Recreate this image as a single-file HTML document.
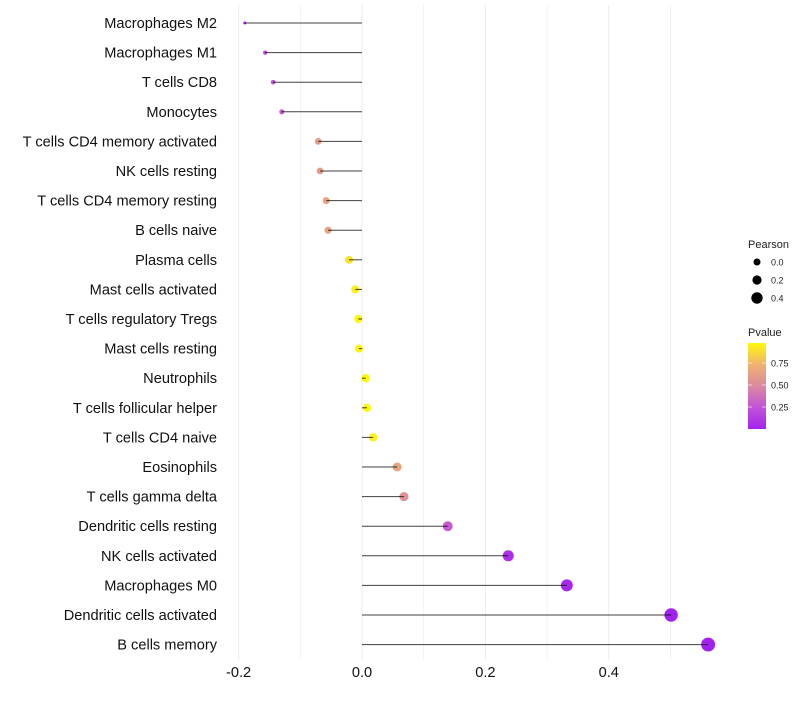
<!DOCTYPE html>
<html><head><meta charset="utf-8"><style>
body{margin:0;background:#fff;font-family:"Liberation Sans",sans-serif}
</style></head><body>
<svg id="c" width="800" height="700" xmlns="http://www.w3.org/2000/svg"></svg>
<script>
const categories=["Macrophages M2","Macrophages M1","T cells CD8","Monocytes","T cells CD4 memory activated","NK cells resting","T cells CD4 memory resting","B cells naive","Plasma cells","Mast cells activated","T cells regulatory  Tregs ","Mast cells resting","Neutrophils","T cells follicular helper","T cells CD4 naive","Eosinophils","T cells gamma delta","Dendritic cells resting","NK cells activated","Macrophages M0","Dendritic cells activated","B cells memory"];
const pearson=[-0.19,-0.157,-0.144,-0.13,-0.071,-0.068,-0.058,-0.055,-0.021,-0.011,-0.006,-0.005,0.006,0.008,0.018,0.057,0.068,0.139,0.237,0.332,0.501,0.561];
const pvalue=[0.01,0.2,0.25,0.3,0.6,0.6,0.65,0.65,0.9,0.95,0.97,0.97,0.98,0.98,0.95,0.65,0.55,0.3,0.08,0.04,0.01,0.005];
const xTicks=[-0.2,0,0.2,0.4];
const xTickLabels=["-0.2","0.0","0.2","0.4"];
const svg=document.getElementById('c');
const NS="http://www.w3.org/2000/svg";
function X(v){return 362+v*617;}
function Y(i){return 23+i*29.6;}
function R(v){return Math.sqrt(Math.max(2.2,17+(v<0?80:56)*v));}
function col(p){
 const stops=[[0,[160,32,240]],[0.3,[200,90,210]],[0.5,[218,138,160]],[0.75,[240,180,110]],[1,[255,255,0]]];
 for(let k=1;k<stops.length;k++){if(p<=stops[k][0]){const a=stops[k-1],b=stops[k],t=(p-a[0])/(b[0]-a[0]);return 'rgb('+a[1].map((c,j)=>Math.round(c+(b[1][j]-c)*t)).join(',')+')';}}
 return 'rgb(255,255,0)';}
function el(t,a,p){const e=document.createElementNS(NS,t);for(const k in a)e.setAttribute(k,a[k]);(p||svg).appendChild(e);return e;}
[-0.2,-0.1,0,0.1,0.2,0.3,0.4,0.5].forEach(v=>{
 const g=el('line',{x1:X(v),x2:X(v),y1:5,y2:660,stroke:'#ebebeb','stroke-width':Math.abs(v*10)%2<0.01?1:0.6});
 
 
});
xTicks.forEach((v,i)=>{
 const t=el('text',{x:X(v),y:677,'text-anchor':'middle','font-size':14.6,fill:'#111'});
 t.textContent=xTickLabels[i];
 
 
});
categories.forEach((c,i)=>{
 const t=el('text',{x:217,y:Y(i)+5,'text-anchor':'end','font-size':14.6,fill:'#111'});
 t.textContent=c;
 
 
 const d=el('circle',{cx:X(pearson[i]),cy:Y(i),r:R(pearson[i]),fill:col(pvalue[i])});
 
 
 const l=el('line',{x1:X(0),x2:X(pearson[i]),y1:Y(i),y2:Y(i),stroke:'#000','stroke-opacity':0.75,'stroke-width':1});
 
 
});
const lg=el('g',{});


el('text',{x:748,y:248,'font-size':11,fill:'#222'},lg).textContent='Pearson';
[[0,'0.0',262,3.5],[0.2,'0.2',280,4.6],[0.4,'0.4',298,5.7]].forEach(a=>{
 el('circle',{cx:757,cy:a[2],r:a[3],fill:'#000'},lg);
 el('text',{x:771,y:a[2]+3.5,'font-size':9,fill:'#222'},lg).textContent=a[1];
});
el('text',{x:748,y:336,'font-size':11,fill:'#222'},lg).textContent='Pvalue';
const defs=el('defs',{});
const gr=el('linearGradient',{id:'pg',x1:0,y1:1,x2:0,y2:0},defs);
[0,0.25,0.5,0.75,1].forEach(o=>el('stop',{offset:o,'stop-color':col(0.02+o*0.96)},gr));
el('rect',{x:748,y:343,width:18,height:86,fill:'url(#pg)'},lg);
[[0.75,363],[0.5,385],[0.25,407]].forEach(a=>{
 el('line',{x1:748,x2:752,y1:a[1],y2:a[1],stroke:'#fff','stroke-width':0.6},lg);
 el('line',{x1:762,x2:766,y1:a[1],y2:a[1],stroke:'#fff','stroke-width':0.6},lg);
 el('text',{x:771,y:a[1]+3.5,'font-size':9,fill:'#222'},lg).textContent=a[0].toFixed(2);
});
</script>
</body></html>
